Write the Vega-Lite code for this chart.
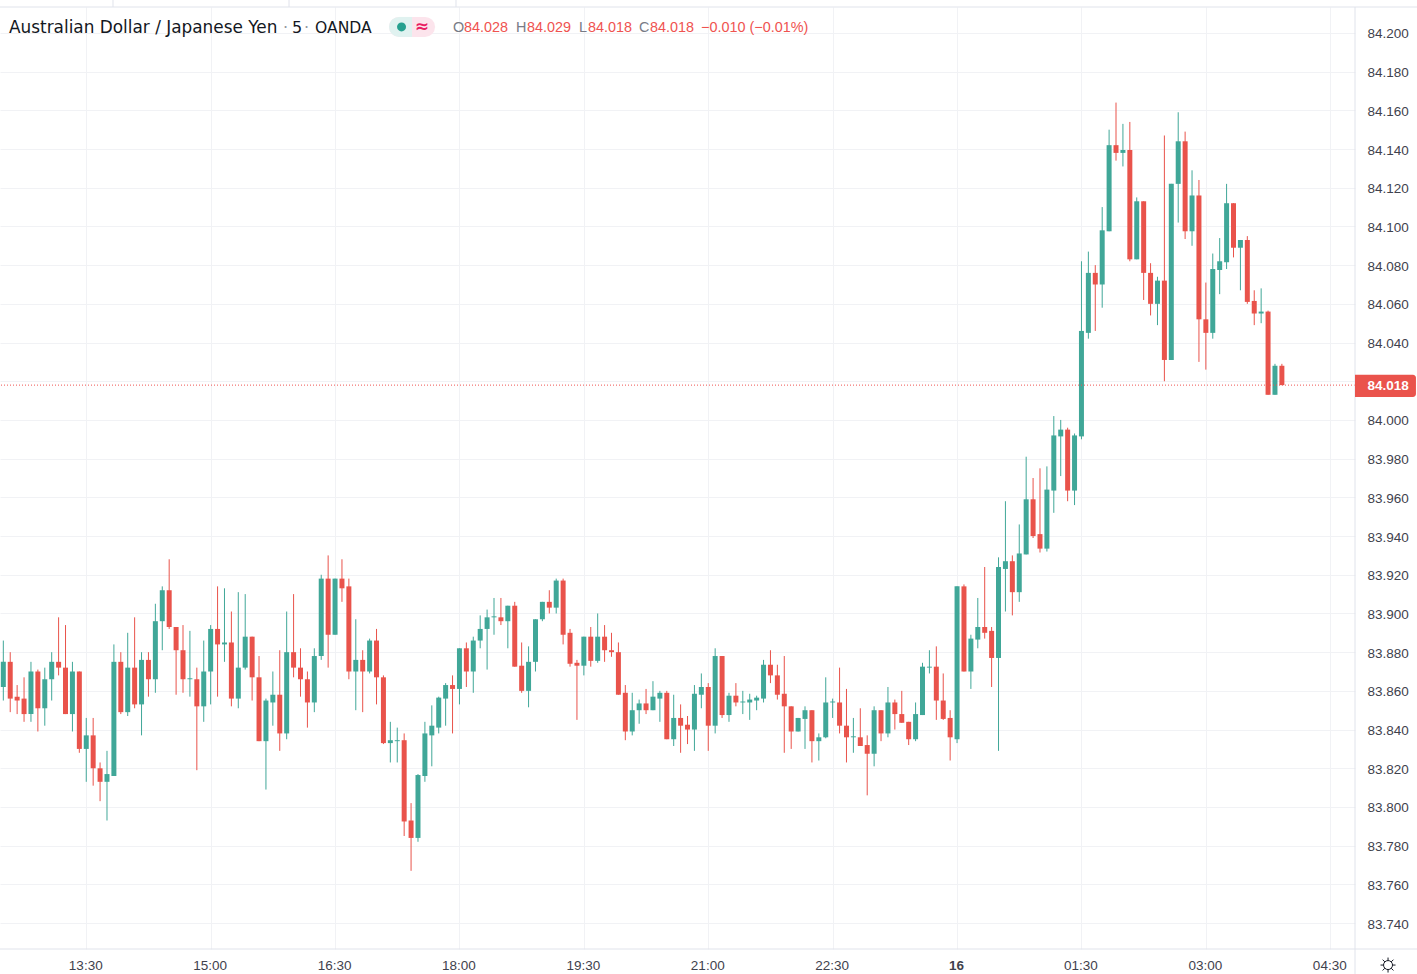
{"$schema":"https://vega.github.io/schema/vega-lite/v6.json","width":1355,"height":942,"autosize":"none","padding":{"left":0,"right":62,"top":7,"bottom":25},"background":"#ffffff","config":{"view":{"stroke":null}},
"data":{"values":[
{"t":"2021-06-15T12:30Z","o":83.862,"h":83.886,"l":83.855,"c":83.875},
{"t":"2021-06-15T12:35Z","o":83.875,"h":83.880,"l":83.849,"c":83.856},
{"t":"2021-06-15T12:40Z","o":83.857,"h":83.863,"l":83.848,"c":83.855},
{"t":"2021-06-15T12:45Z","o":83.856,"h":83.867,"l":83.844,"c":83.848},
{"t":"2021-06-15T12:50Z","o":83.848,"h":83.875,"l":83.844,"c":83.870},
{"t":"2021-06-15T12:55Z","o":83.870,"h":83.871,"l":83.839,"c":83.851},
{"t":"2021-06-15T13:00Z","o":83.851,"h":83.872,"l":83.842,"c":83.866},
{"t":"2021-06-15T13:05Z","o":83.866,"h":83.880,"l":83.855,"c":83.875},
{"t":"2021-06-15T13:10Z","o":83.875,"h":83.898,"l":83.868,"c":83.872},
{"t":"2021-06-15T13:15Z","o":83.872,"h":83.894,"l":83.848,"c":83.848},
{"t":"2021-06-15T13:20Z","o":83.848,"h":83.875,"l":83.839,"c":83.870},
{"t":"2021-06-15T13:25Z","o":83.870,"h":83.870,"l":83.828,"c":83.830},
{"t":"2021-06-15T13:30Z","o":83.830,"h":83.846,"l":83.813,"c":83.837},
{"t":"2021-06-15T13:35Z","o":83.837,"h":83.846,"l":83.811,"c":83.820},
{"t":"2021-06-15T13:40Z","o":83.820,"h":83.823,"l":83.803,"c":83.813},
{"t":"2021-06-15T13:45Z","o":83.813,"h":83.829,"l":83.793,"c":83.817},
{"t":"2021-06-15T13:50Z","o":83.816,"h":83.884,"l":83.816,"c":83.875},
{"t":"2021-06-15T13:55Z","o":83.875,"h":83.880,"l":83.848,"c":83.849},
{"t":"2021-06-15T14:00Z","o":83.849,"h":83.890,"l":83.847,"c":83.872},
{"t":"2021-06-15T14:05Z","o":83.872,"h":83.898,"l":83.851,"c":83.853},
{"t":"2021-06-15T14:10Z","o":83.853,"h":83.880,"l":83.837,"c":83.876},
{"t":"2021-06-15T14:15Z","o":83.876,"h":83.880,"l":83.857,"c":83.866},
{"t":"2021-06-15T14:20Z","o":83.866,"h":83.905,"l":83.859,"c":83.896},
{"t":"2021-06-15T14:25Z","o":83.896,"h":83.914,"l":83.881,"c":83.912},
{"t":"2021-06-15T14:30Z","o":83.912,"h":83.928,"l":83.892,"c":83.893},
{"t":"2021-06-15T14:35Z","o":83.893,"h":83.893,"l":83.858,"c":83.881},
{"t":"2021-06-15T14:40Z","o":83.881,"h":83.894,"l":83.859,"c":83.866},
{"t":"2021-06-15T14:45Z","o":83.866,"h":83.891,"l":83.857,"c":83.8665},
{"t":"2021-06-15T14:50Z","o":83.866,"h":83.872,"l":83.819,"c":83.852},
{"t":"2021-06-15T14:55Z","o":83.852,"h":83.886,"l":83.844,"c":83.870},
{"t":"2021-06-15T15:00Z","o":83.870,"h":83.894,"l":83.853,"c":83.892},
{"t":"2021-06-15T15:05Z","o":83.892,"h":83.914,"l":83.857,"c":83.884},
{"t":"2021-06-15T15:10Z","o":83.884,"h":83.913,"l":83.875,"c":83.885},
{"t":"2021-06-15T15:15Z","o":83.885,"h":83.901,"l":83.852,"c":83.856},
{"t":"2021-06-15T15:20Z","o":83.856,"h":83.911,"l":83.851,"c":83.872},
{"t":"2021-06-15T15:25Z","o":83.872,"h":83.910,"l":83.871,"c":83.888},
{"t":"2021-06-15T15:30Z","o":83.888,"h":83.888,"l":83.855,"c":83.867},
{"t":"2021-06-15T15:35Z","o":83.867,"h":83.878,"l":83.834,"c":83.834},
{"t":"2021-06-15T15:40Z","o":83.834,"h":83.856,"l":83.809,"c":83.855},
{"t":"2021-06-15T15:45Z","o":83.854,"h":83.870,"l":83.842,"c":83.858},
{"t":"2021-06-15T15:50Z","o":83.858,"h":83.881,"l":83.829,"c":83.838},
{"t":"2021-06-15T15:55Z","o":83.838,"h":83.901,"l":83.835,"c":83.880},
{"t":"2021-06-15T16:00Z","o":83.880,"h":83.910,"l":83.867,"c":83.872},
{"t":"2021-06-15T16:05Z","o":83.872,"h":83.882,"l":83.857,"c":83.866},
{"t":"2021-06-15T16:10Z","o":83.866,"h":83.870,"l":83.841,"c":83.854},
{"t":"2021-06-15T16:15Z","o":83.854,"h":83.882,"l":83.849,"c":83.878},
{"t":"2021-06-15T16:20Z","o":83.878,"h":83.920,"l":83.876,"c":83.918},
{"t":"2021-06-15T16:25Z","o":83.918,"h":83.930,"l":83.872,"c":83.889},
{"t":"2021-06-15T16:30Z","o":83.889,"h":83.918,"l":83.889,"c":83.918},
{"t":"2021-06-15T16:35Z","o":83.918,"h":83.928,"l":83.906,"c":83.913},
{"t":"2021-06-15T16:40Z","o":83.914,"h":83.918,"l":83.866,"c":83.870},
{"t":"2021-06-15T16:45Z","o":83.870,"h":83.897,"l":83.850,"c":83.876},
{"t":"2021-06-15T16:50Z","o":83.876,"h":83.881,"l":83.849,"c":83.870},
{"t":"2021-06-15T16:55Z","o":83.870,"h":83.887,"l":83.869,"c":83.886},
{"t":"2021-06-15T17:00Z","o":83.886,"h":83.892,"l":83.853,"c":83.867},
{"t":"2021-06-15T17:05Z","o":83.867,"h":83.868,"l":83.8325,"c":83.833},
{"t":"2021-06-15T17:10Z","o":83.833,"h":83.844,"l":83.823,"c":83.8345},
{"t":"2021-06-15T17:15Z","o":83.834,"h":83.841,"l":83.823,"c":83.8345},
{"t":"2021-06-15T17:20Z","o":83.8345,"h":83.838,"l":83.785,"c":83.7925},
{"t":"2021-06-15T17:25Z","o":83.793,"h":83.802,"l":83.767,"c":83.784},
{"t":"2021-06-15T17:30Z","o":83.784,"h":83.817,"l":83.782,"c":83.8165},
{"t":"2021-06-15T17:35Z","o":83.816,"h":83.844,"l":83.813,"c":83.838},
{"t":"2021-06-15T17:40Z","o":83.837,"h":83.8525,"l":83.821,"c":83.842},
{"t":"2021-06-15T17:45Z","o":83.841,"h":83.857,"l":83.838,"c":83.8565},
{"t":"2021-06-15T17:50Z","o":83.856,"h":83.864,"l":83.842,"c":83.863},
{"t":"2021-06-15T17:55Z","o":83.863,"h":83.868,"l":83.838,"c":83.861},
{"t":"2021-06-15T18:00Z","o":83.861,"h":83.882,"l":83.853,"c":83.882},
{"t":"2021-06-15T18:05Z","o":83.882,"h":83.885,"l":83.862,"c":83.870},
{"t":"2021-06-15T18:10Z","o":83.870,"h":83.888,"l":83.859,"c":83.886},
{"t":"2021-06-15T18:15Z","o":83.886,"h":83.899,"l":83.882,"c":83.892},
{"t":"2021-06-15T18:20Z","o":83.892,"h":83.902,"l":83.871,"c":83.898},
{"t":"2021-06-15T18:25Z","o":83.898,"h":83.908,"l":83.889,"c":83.8985},
{"t":"2021-06-15T18:30Z","o":83.898,"h":83.908,"l":83.894,"c":83.896},
{"t":"2021-06-15T18:35Z","o":83.896,"h":83.904,"l":83.882,"c":83.904},
{"t":"2021-06-15T18:40Z","o":83.904,"h":83.906,"l":83.8725,"c":83.8725},
{"t":"2021-06-15T18:45Z","o":83.873,"h":83.885,"l":83.859,"c":83.860},
{"t":"2021-06-15T18:50Z","o":83.860,"h":83.883,"l":83.8515,"c":83.875},
{"t":"2021-06-15T18:55Z","o":83.875,"h":83.897,"l":83.870,"c":83.897},
{"t":"2021-06-15T19:00Z","o":83.897,"h":83.906,"l":83.896,"c":83.906},
{"t":"2021-06-15T19:05Z","o":83.906,"h":83.912,"l":83.900,"c":83.903},
{"t":"2021-06-15T19:10Z","o":83.903,"h":83.918,"l":83.900,"c":83.917},
{"t":"2021-06-15T19:15Z","o":83.917,"h":83.918,"l":83.884,"c":83.889},
{"t":"2021-06-15T19:20Z","o":83.890,"h":83.892,"l":83.8725,"c":83.874},
{"t":"2021-06-15T19:25Z","o":83.8745,"h":83.876,"l":83.845,"c":83.873},
{"t":"2021-06-15T19:30Z","o":83.873,"h":83.888,"l":83.868,"c":83.888},
{"t":"2021-06-15T19:35Z","o":83.888,"h":83.893,"l":83.8725,"c":83.8755},
{"t":"2021-06-15T19:40Z","o":83.8755,"h":83.900,"l":83.8745,"c":83.888},
{"t":"2021-06-15T19:45Z","o":83.888,"h":83.894,"l":83.875,"c":83.881},
{"t":"2021-06-15T19:50Z","o":83.881,"h":83.890,"l":83.8776,"c":83.880},
{"t":"2021-06-15T19:55Z","o":83.880,"h":83.885,"l":83.858,"c":83.858},
{"t":"2021-06-15T20:00Z","o":83.859,"h":83.863,"l":83.8345,"c":83.839},
{"t":"2021-06-15T20:05Z","o":83.839,"h":83.859,"l":83.837,"c":83.850},
{"t":"2021-06-15T20:10Z","o":83.850,"h":83.8555,"l":83.843,"c":83.8535},
{"t":"2021-06-15T20:15Z","o":83.8535,"h":83.861,"l":83.848,"c":83.850},
{"t":"2021-06-15T20:20Z","o":83.850,"h":83.865,"l":83.850,"c":83.857},
{"t":"2021-06-15T20:25Z","o":83.856,"h":83.860,"l":83.844,"c":83.859},
{"t":"2021-06-15T20:30Z","o":83.859,"h":83.860,"l":83.835,"c":83.835},
{"t":"2021-06-15T20:35Z","o":83.835,"h":83.858,"l":83.8315,"c":83.846},
{"t":"2021-06-15T20:40Z","o":83.846,"h":83.853,"l":83.828,"c":83.842},
{"t":"2021-06-15T20:45Z","o":83.8425,"h":83.847,"l":83.8325,"c":83.840},
{"t":"2021-06-15T20:50Z","o":83.840,"h":83.863,"l":83.829,"c":83.8585},
{"t":"2021-06-15T20:55Z","o":83.858,"h":83.869,"l":83.851,"c":83.862},
{"t":"2021-06-15T21:00Z","o":83.862,"h":83.864,"l":83.829,"c":83.842},
{"t":"2021-06-15T21:05Z","o":83.842,"h":83.882,"l":83.838,"c":83.878},
{"t":"2021-06-15T21:10Z","o":83.878,"h":83.878,"l":83.846,"c":83.8475},
{"t":"2021-06-15T21:15Z","o":83.8475,"h":83.859,"l":83.844,"c":83.8575},
{"t":"2021-06-15T21:20Z","o":83.8575,"h":83.864,"l":83.852,"c":83.854},
{"t":"2021-06-15T21:25Z","o":83.854,"h":83.860,"l":83.848,"c":83.8545},
{"t":"2021-06-15T21:30Z","o":83.854,"h":83.8585,"l":83.845,"c":83.8555},
{"t":"2021-06-15T21:35Z","o":83.855,"h":83.8575,"l":83.850,"c":83.8565},
{"t":"2021-06-15T21:40Z","o":83.856,"h":83.876,"l":83.854,"c":83.8735},
{"t":"2021-06-15T21:45Z","o":83.8735,"h":83.881,"l":83.864,"c":83.868},
{"t":"2021-06-15T21:50Z","o":83.868,"h":83.8735,"l":83.8555,"c":83.858},
{"t":"2021-06-15T21:55Z","o":83.8585,"h":83.878,"l":83.828,"c":83.852},
{"t":"2021-06-15T22:00Z","o":83.852,"h":83.852,"l":83.830,"c":83.839},
{"t":"2021-06-15T22:05Z","o":83.839,"h":83.846,"l":83.839,"c":83.846},
{"t":"2021-06-15T22:10Z","o":83.8455,"h":83.852,"l":83.830,"c":83.850},
{"t":"2021-06-15T22:15Z","o":83.850,"h":83.850,"l":83.823,"c":83.834},
{"t":"2021-06-15T22:20Z","o":83.834,"h":83.838,"l":83.824,"c":83.836},
{"t":"2021-06-15T22:25Z","o":83.836,"h":83.867,"l":83.8355,"c":83.854},
{"t":"2021-06-15T22:30Z","o":83.854,"h":83.856,"l":83.846,"c":83.8545},
{"t":"2021-06-15T22:35Z","o":83.854,"h":83.872,"l":83.838,"c":83.842},
{"t":"2021-06-15T22:40Z","o":83.842,"h":83.861,"l":83.823,"c":83.836},
{"t":"2021-06-15T22:45Z","o":83.836,"h":83.846,"l":83.828,"c":83.8365},
{"t":"2021-06-15T22:50Z","o":83.836,"h":83.851,"l":83.8315,"c":83.8315},
{"t":"2021-06-15T22:55Z","o":83.832,"h":83.837,"l":83.806,"c":83.8275},
{"t":"2021-06-15T23:00Z","o":83.8275,"h":83.852,"l":83.821,"c":83.850},
{"t":"2021-06-15T23:05Z","o":83.850,"h":83.850,"l":83.834,"c":83.838},
{"t":"2021-06-15T23:10Z","o":83.838,"h":83.862,"l":83.836,"c":83.854},
{"t":"2021-06-15T23:15Z","o":83.854,"h":83.8555,"l":83.840,"c":83.848},
{"t":"2021-06-15T23:20Z","o":83.848,"h":83.860,"l":83.8435,"c":83.8435},
{"t":"2021-06-15T23:25Z","o":83.844,"h":83.844,"l":83.832,"c":83.835},
{"t":"2021-06-15T23:30Z","o":83.835,"h":83.854,"l":83.834,"c":83.848},
{"t":"2021-06-15T23:35Z","o":83.8475,"h":83.8745,"l":83.8475,"c":83.8725},
{"t":"2021-06-15T23:40Z","o":83.872,"h":83.881,"l":83.869,"c":83.8725},
{"t":"2021-06-15T23:45Z","o":83.8725,"h":83.883,"l":83.845,"c":83.855},
{"t":"2021-06-15T23:50Z","o":83.855,"h":83.869,"l":83.845,"c":83.8455},
{"t":"2021-06-15T23:55Z","o":83.846,"h":83.850,"l":83.824,"c":83.836},
{"t":"2021-06-16T00:00Z","o":83.835,"h":83.914,"l":83.833,"c":83.914},
{"t":"2021-06-16T00:05Z","o":83.914,"h":83.915,"l":83.870,"c":83.870},
{"t":"2021-06-16T00:10Z","o":83.870,"h":83.889,"l":83.861,"c":83.887},
{"t":"2021-06-16T00:15Z","o":83.8865,"h":83.908,"l":83.882,"c":83.893},
{"t":"2021-06-16T00:20Z","o":83.893,"h":83.924,"l":83.887,"c":83.890},
{"t":"2021-06-16T00:25Z","o":83.891,"h":83.893,"l":83.862,"c":83.877},
{"t":"2021-06-16T00:30Z","o":83.877,"h":83.929,"l":83.829,"c":83.924},
{"t":"2021-06-16T00:35Z","o":83.923,"h":83.958,"l":83.901,"c":83.927},
{"t":"2021-06-16T00:40Z","o":83.927,"h":83.930,"l":83.899,"c":83.911},
{"t":"2021-06-16T00:45Z","o":83.911,"h":83.946,"l":83.906,"c":83.931},
{"t":"2021-06-16T00:50Z","o":83.9305,"h":83.981,"l":83.9305,"c":83.959},
{"t":"2021-06-16T00:55Z","o":83.959,"h":83.970,"l":83.939,"c":83.940},
{"t":"2021-06-16T01:00Z","o":83.941,"h":83.975,"l":83.9315,"c":83.9335},
{"t":"2021-06-16T01:05Z","o":83.9335,"h":83.976,"l":83.932,"c":83.964},
{"t":"2021-06-16T01:10Z","o":83.9635,"h":84.002,"l":83.952,"c":83.992},
{"t":"2021-06-16T01:15Z","o":83.9915,"h":84.000,"l":83.971,"c":83.995},
{"t":"2021-06-16T01:20Z","o":83.995,"h":83.996,"l":83.958,"c":83.9635},
{"t":"2021-06-16T01:25Z","o":83.9635,"h":83.993,"l":83.956,"c":83.992},
{"t":"2021-06-16T01:30Z","o":83.9915,"h":84.082,"l":83.990,"c":84.046},
{"t":"2021-06-16T01:35Z","o":84.045,"h":84.087,"l":84.042,"c":84.076},
{"t":"2021-06-16T01:40Z","o":84.076,"h":84.080,"l":84.046,"c":84.070},
{"t":"2021-06-16T01:45Z","o":84.070,"h":84.110,"l":84.058,"c":84.098},
{"t":"2021-06-16T01:50Z","o":84.0975,"h":84.150,"l":84.0975,"c":84.142},
{"t":"2021-06-16T01:55Z","o":84.142,"h":84.164,"l":84.134,"c":84.138},
{"t":"2021-06-16T02:00Z","o":84.138,"h":84.153,"l":84.131,"c":84.1395},
{"t":"2021-06-16T02:05Z","o":84.1395,"h":84.154,"l":84.082,"c":84.083},
{"t":"2021-06-16T02:10Z","o":84.083,"h":84.115,"l":84.083,"c":84.113},
{"t":"2021-06-16T02:15Z","o":84.113,"h":84.113,"l":84.062,"c":84.076},
{"t":"2021-06-16T02:20Z","o":84.076,"h":84.081,"l":84.054,"c":84.060},
{"t":"2021-06-16T02:25Z","o":84.060,"h":84.074,"l":84.049,"c":84.072},
{"t":"2021-06-16T02:30Z","o":84.072,"h":84.147,"l":84.020,"c":84.031},
{"t":"2021-06-16T02:35Z","o":84.031,"h":84.122,"l":84.031,"c":84.122},
{"t":"2021-06-16T02:40Z","o":84.122,"h":84.159,"l":84.102,"c":84.144},
{"t":"2021-06-16T02:45Z","o":84.144,"h":84.149,"l":84.0935,"c":84.0975},
{"t":"2021-06-16T02:50Z","o":84.0975,"h":84.129,"l":84.090,"c":84.116},
{"t":"2021-06-16T02:55Z","o":84.116,"h":84.124,"l":84.030,"c":84.052},
{"t":"2021-06-16T03:00Z","o":84.052,"h":84.071,"l":84.026,"c":84.045},
{"t":"2021-06-16T03:05Z","o":84.045,"h":84.086,"l":84.042,"c":84.078},
{"t":"2021-06-16T03:10Z","o":84.0775,"h":84.094,"l":84.065,"c":84.082},
{"t":"2021-06-16T03:15Z","o":84.0815,"h":84.122,"l":84.078,"c":84.112},
{"t":"2021-06-16T03:20Z","o":84.112,"h":84.112,"l":84.084,"c":84.089},
{"t":"2021-06-16T03:25Z","o":84.089,"h":84.093,"l":84.067,"c":84.093},
{"t":"2021-06-16T03:30Z","o":84.093,"h":84.095,"l":84.060,"c":84.061},
{"t":"2021-06-16T03:35Z","o":84.0615,"h":84.067,"l":84.049,"c":84.055},
{"t":"2021-06-16T03:40Z","o":84.055,"h":84.068,"l":84.050,"c":84.056},
{"t":"2021-06-16T03:45Z","o":84.056,"h":84.0565,"l":84.013,"c":84.013},
{"t":"2021-06-16T03:50Z","o":84.013,"h":84.029,"l":84.013,"c":84.028},
{"t":"2021-06-16T03:55Z","o":84.028,"h":84.029,"l":84.018,"c":84.018}
]},
"layer":[
{"mark":{"type":"rule","strokeWidth":1,"opacity":0},"encoding":{
"x":{"field":"t","type":"temporal","title":null,"scale":{"type":"utc","padding":0,"domain":["2021-06-15T12:27:36Z","2021-06-16T04:47:54Z"]},"axis":{"title":null,"values":["2021-06-15T13:30Z","2021-06-15T15:00Z","2021-06-15T16:30Z","2021-06-15T18:00Z","2021-06-15T19:30Z","2021-06-15T21:00Z","2021-06-15T22:30Z","2021-06-16T00:00Z","2021-06-16T01:30Z","2021-06-16T03:00Z","2021-06-16T04:30Z"],"labelExpr":"utchours(datum.value)==0 ? '16' : utcFormat(datum.value,'%H:%M')","labelFontWeight":{"condition":{"test":"utchours(datum.value)==0","value":"bold"},"value":"normal"},"grid":true,"gridColor":"#f1f2f5","domain":false,"ticks":false,"labelPadding":9,"labelOffset":-1,"labelFont":"Liberation Sans","labelFontSize":13.5,"labelColor":"#3f424d","labelOverlap":false,"labelFlush":false}},
"y":{"field":"l","type":"quantitative","title":null,"scale":{"domain":[83.7266,84.2134],"nice":false,"zero":false},"axis":{"title":null,"orient":"right","values":[83.74,83.76,83.78,83.8,83.82,83.84,83.86,83.88,83.9,83.92,83.94,83.96,83.98,84,84.02,84.04,84.06,84.08,84.1,84.12,84.14,84.16,84.18,84.2],"labelExpr":"abs(datum.value-84.02)<0.0001 ? '' : format(datum.value,'.3f')","grid":true,"gridColor":"#f1f2f5","domain":false,"ticks":false,"labelPadding":12,"labelOffset":1,"labelFont":"Liberation Sans","labelFontSize":13.5,"labelColor":"#3f424d","labelOverlap":false}}}},
{"mark":{"type":"rule","strokeWidth":1},"encoding":{"x":{"field":"t","type":"temporal"},"y":{"field":"l","type":"quantitative"},"y2":{"field":"h"},"color":{"condition":{"test":"datum.c>=datum.o","value":"#40a798"},"value":"#e9534b"}}},
{"mark":{"type":"bar","size":5,"orient":"vertical"},"encoding":{"x":{"field":"t","type":"temporal"},"y":{"field":"o","type":"quantitative"},"y2":{"field":"c"},"color":{"condition":{"test":"datum.c>=datum.o","value":"#40a798"},"value":"#e9534b"}}},
{"data":{"values":[{}]},"mark":{"type":"rule","color":"#ef5350","strokeWidth":1,"strokeDash":[1,2]},"encoding":{"y":{"datum":84.018,"type":"quantitative"}}},
{"data":{"values":[{}]},"mark":{"type":"rule","color":"#e0e3eb","strokeWidth":1},"encoding":{"x":{"datum":{"year":2021,"month":6,"date":15,"hours":12,"minutes":27,"seconds":36,"utc":true},"type":"temporal"},"x2":{"datum":{"year":2021,"month":6,"date":16,"hours":5,"minutes":32,"seconds":48,"utc":true}},"y":{"datum":84.2134,"type":"quantitative"}}},
{"data":{"values":[{}]},"mark":{"type":"rule","color":"#e0e3eb","strokeWidth":1},"encoding":{"x":{"datum":{"year":2021,"month":6,"date":15,"hours":12,"minutes":27,"seconds":36,"utc":true},"type":"temporal"},"x2":{"datum":{"year":2021,"month":6,"date":16,"hours":5,"minutes":32,"seconds":48,"utc":true}},"y":{"datum":83.7266,"type":"quantitative"}}},
{"data":{"values":[{}]},"mark":{"type":"rule","color":"#e0e3eb","strokeWidth":1},"encoding":{"x":{"datum":{"year":2021,"month":6,"date":16,"hours":4,"minutes":47,"seconds":54,"utc":true},"type":"temporal"},"y":{"datum":84.2134,"type":"quantitative"},"y2":{"datum":83.7137}}},
{"data":{"values":[{}]},"mark":{"type":"rule","color":"#e0e3eb","strokeWidth":1},"encoding":{"x":{"datum":{"year":2021,"month":6,"date":15,"hours":13,"minutes":49,"seconds":21,"utc":true},"type":"temporal"},"y":{"datum":84.2134,"type":"quantitative"},"y2":{"datum":84.2171}}},
{"data":{"values":[{}]},"mark":{"type":"rule","color":"#e0e3eb","strokeWidth":1},"encoding":{"x":{"datum":{"year":2021,"month":6,"date":15,"hours":15,"minutes":56,"seconds":42,"utc":true},"type":"temporal"},"y":{"datum":84.2134,"type":"quantitative"},"y2":{"datum":84.2171}}},
{"data":{"values":[{}]},"mark":{"type":"rule","color":"#e0e3eb","strokeWidth":1},"encoding":{"x":{"datum":{"year":2021,"month":6,"date":15,"hours":17,"minutes":57,"seconds":30,"utc":true},"type":"temporal"},"y":{"datum":84.2134,"type":"quantitative"},"y2":{"datum":84.2171}}},
{"data":{"values":[{}]},"mark":{"type":"rect","color":"#ea534c","cornerRadiusTopRight":3,"cornerRadiusBottomRight":3},"encoding":{"x":{"datum":{"year":2021,"month":6,"date":16,"hours":4,"minutes":47,"seconds":54,"utc":true},"type":"temporal"},"x2":{"datum":{"year":2021,"month":6,"date":16,"hours":5,"minutes":32,"seconds":0,"utc":true}},"y":{"datum":84.0233,"type":"quantitative"},"y2":{"datum":84.0119}}},
{"data":{"values":[{}]},"mark":{"type":"text","text":"84.018","color":"#ffffff","font":"Liberation Sans","fontSize":13.5,"fontWeight":"bold"},"encoding":{"x":{"datum":{"year":2021,"month":6,"date":16,"hours":5,"minutes":11,"seconds":48,"utc":true},"type":"temporal"},"y":{"datum":84.0175,"type":"quantitative"}}},
{"data":{"values":[{}]},"mark":{"type":"point","shape":"M 0.6 0 A 0.6 0.6 0 1 1 -0.6 0 A 0.6 0.6 0 1 1 0.6 0 M 0 -1 L 0 -0.6 M 0 0.6 L 0 1 M -1 0 L -0.6 0 M 0.6 0 L 1 0 M -0.72 -0.72 L -0.42 -0.42 M 0.72 -0.72 L 0.42 -0.42 M -0.72 0.72 L -0.42 0.42 M 0.72 0.72 L 0.42 0.42","size":225,"filled":false,"stroke":"#131722","strokeWidth":1,"opacity":1},"encoding":{"x":{"datum":{"year":2021,"month":6,"date":16,"hours":5,"minutes":11,"seconds":48,"utc":true},"type":"temporal"},"y":{"datum":83.7183,"type":"quantitative"}}},
{"data":{"values":[{}]},"mark":{"type":"text","text":"Australian Dollar / Japanese Yen","align":"left","color":"#131722","font":"DejaVu Sans","fontSize":16.9},"encoding":{"x":{"datum":{"year":2021,"month":6,"date":15,"hours":12,"minutes":34,"seconds":6,"utc":true},"type":"temporal"},"y":{"datum":84.2026,"type":"quantitative"}}},
{"data":{"values":[{}]},"mark":{"type":"text","text":"·","color":"#9598a1","font":"DejaVu Sans","fontSize":16},"encoding":{"x":{"datum":{"year":2021,"month":6,"date":15,"hours":15,"minutes":54,"seconds":12,"utc":true},"type":"temporal"},"y":{"datum":84.2026,"type":"quantitative"}}},
{"data":{"values":[{}]},"mark":{"type":"text","text":"5","align":"left","color":"#131722","font":"DejaVu Sans","fontSize":16},"encoding":{"x":{"datum":{"year":2021,"month":6,"date":15,"hours":15,"minutes":58,"seconds":54,"utc":true},"type":"temporal"},"y":{"datum":84.2026,"type":"quantitative"}}},
{"data":{"values":[{}]},"mark":{"type":"text","text":"·","color":"#9598a1","font":"DejaVu Sans","fontSize":16},"encoding":{"x":{"datum":{"year":2021,"month":6,"date":15,"hours":16,"minutes":9,"seconds":18,"utc":true},"type":"temporal"},"y":{"datum":84.2026,"type":"quantitative"}}},
{"data":{"values":[{}]},"mark":{"type":"text","text":"OANDA","align":"left","color":"#131722","font":"DejaVu Sans","fontSize":15.6},"encoding":{"x":{"datum":{"year":2021,"month":6,"date":15,"hours":16,"minutes":15,"seconds":30,"utc":true},"type":"temporal"},"y":{"datum":84.2026,"type":"quantitative"}}},
{"data":{"values":[{}]},"mark":{"type":"rule","color":"#fce4ec","strokeWidth":20,"strokeCap":"round"},"encoding":{"x":{"datum":{"year":2021,"month":6,"date":15,"hours":17,"minutes":16,"seconds":18,"utc":true},"type":"temporal"},"x2":{"datum":{"year":2021,"month":6,"date":15,"hours":17,"minutes":35,"seconds":6,"utc":true}},"y":{"datum":84.2031,"type":"quantitative"}}},
{"data":{"values":[{}]},"mark":{"type":"rule","color":"#e0f2f0","strokeWidth":20,"strokeCap":"round"},"encoding":{"x":{"datum":{"year":2021,"month":6,"date":15,"hours":17,"minutes":16,"seconds":18,"utc":true},"type":"temporal"},"x2":{"datum":{"year":2021,"month":6,"date":15,"hours":17,"minutes":18,"seconds":24,"utc":true}},"y":{"datum":84.2031,"type":"quantitative"}}},
{"data":{"values":[{}]},"mark":{"type":"rule","color":"#e0f2f0","strokeWidth":20},"encoding":{"x":{"datum":{"year":2021,"month":6,"date":15,"hours":17,"minutes":16,"seconds":18,"utc":true},"type":"temporal"},"x2":{"datum":{"year":2021,"month":6,"date":15,"hours":17,"minutes":25,"seconds":42,"utc":true}},"y":{"datum":84.2031,"type":"quantitative"}}},
{"data":{"values":[{}]},"mark":{"type":"point","shape":"circle","filled":true,"opacity":1,"color":"#26a08f","size":81},"encoding":{"x":{"datum":{"year":2021,"month":6,"date":15,"hours":17,"minutes":18,"seconds":6,"utc":true},"type":"temporal"},"y":{"datum":84.2031,"type":"quantitative"}}},
{"data":{"values":[{}]},"mark":{"type":"text","text":"≈","color":"#e91e63","font":"DejaVu Sans","fontSize":17,"fontWeight":"bold"},"encoding":{"x":{"datum":{"year":2021,"month":6,"date":15,"hours":17,"minutes":32,"seconds":54,"utc":true},"type":"temporal"},"y":{"datum":84.2031,"type":"quantitative"}}},
{"data":{"values":[{}]},"mark":{"type":"text","text":"O","align":"left","color":"#787b86","font":"Liberation Sans","fontSize":14.4},"encoding":{"x":{"datum":{"year":2021,"month":6,"date":15,"hours":17,"minutes":55,"seconds":18,"utc":true},"type":"temporal"},"y":{"datum":84.2026,"type":"quantitative"}}},
{"data":{"values":[{}]},"mark":{"type":"text","text":"84.028","align":"left","color":"#ef5350","font":"Liberation Sans","fontSize":14.4},"encoding":{"x":{"datum":{"year":2021,"month":6,"date":15,"hours":18,"minutes":3,"seconds":18,"utc":true},"type":"temporal"},"y":{"datum":84.2026,"type":"quantitative"}}},
{"data":{"values":[{}]},"mark":{"type":"text","text":"H","align":"left","color":"#787b86","font":"Liberation Sans","fontSize":14.4},"encoding":{"x":{"datum":{"year":2021,"month":6,"date":15,"hours":18,"minutes":40,"seconds":54,"utc":true},"type":"temporal"},"y":{"datum":84.2026,"type":"quantitative"}}},
{"data":{"values":[{}]},"mark":{"type":"text","text":"84.029","align":"left","color":"#ef5350","font":"Liberation Sans","fontSize":14.4},"encoding":{"x":{"datum":{"year":2021,"month":6,"date":15,"hours":18,"minutes":48,"seconds":54,"utc":true},"type":"temporal"},"y":{"datum":84.2026,"type":"quantitative"}}},
{"data":{"values":[{}]},"mark":{"type":"text","text":"L","align":"left","color":"#787b86","font":"Liberation Sans","fontSize":14.4},"encoding":{"x":{"datum":{"year":2021,"month":6,"date":15,"hours":19,"minutes":26,"seconds":30,"utc":true},"type":"temporal"},"y":{"datum":84.2026,"type":"quantitative"}}},
{"data":{"values":[{}]},"mark":{"type":"text","text":"84.018","align":"left","color":"#ef5350","font":"Liberation Sans","fontSize":14.4},"encoding":{"x":{"datum":{"year":2021,"month":6,"date":15,"hours":19,"minutes":33,"seconds":0,"utc":true},"type":"temporal"},"y":{"datum":84.2026,"type":"quantitative"}}},
{"data":{"values":[{}]},"mark":{"type":"text","text":"C","align":"left","color":"#787b86","font":"Liberation Sans","fontSize":14.4},"encoding":{"x":{"datum":{"year":2021,"month":6,"date":15,"hours":20,"minutes":9,"seconds":54,"utc":true},"type":"temporal"},"y":{"datum":84.2026,"type":"quantitative"}}},
{"data":{"values":[{}]},"mark":{"type":"text","text":"84.018","align":"left","color":"#ef5350","font":"Liberation Sans","fontSize":14.4},"encoding":{"x":{"datum":{"year":2021,"month":6,"date":15,"hours":20,"minutes":17,"seconds":54,"utc":true},"type":"temporal"},"y":{"datum":84.2026,"type":"quantitative"}}},
{"data":{"values":[{}]},"mark":{"type":"text","text":"−0.010 (−0.01%)","align":"left","color":"#ef5350","font":"Liberation Sans","fontSize":14.4},"encoding":{"x":{"datum":{"year":2021,"month":6,"date":15,"hours":20,"minutes":54,"seconds":48,"utc":true},"type":"temporal"},"y":{"datum":84.2026,"type":"quantitative"}}}
]}
